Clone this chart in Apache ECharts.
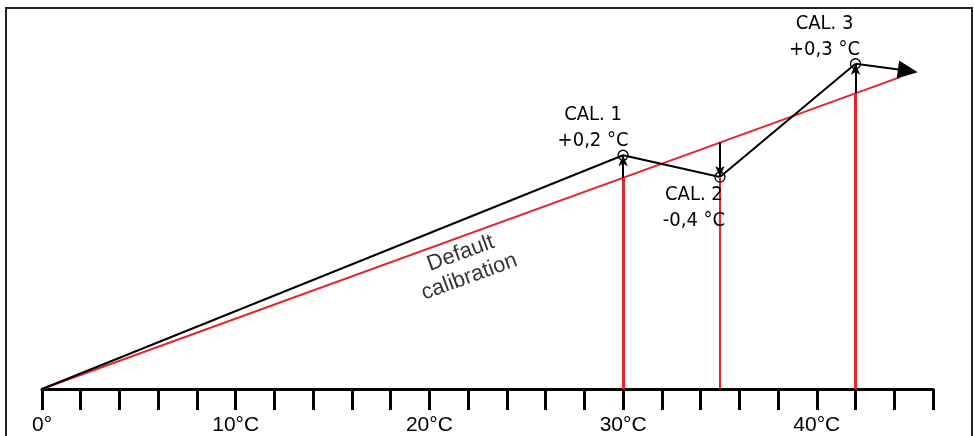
<!DOCTYPE html>
<html>
<head>
<meta charset="utf-8">
<script src="https://cdn.jsdelivr.net/npm/echarts@6/dist/echarts.min.js"></script>
<style>
  html, body { margin: 0; padding: 0; background: #fff; }
  #main { width: 974px; height: 436px; }
</style>
</head>
<body>
<div id="main"></div>
<script>
// temperature axis (°C), ticks every 2
const axisMin = 0;
const axisMax = 46;
const tickStep = 2;
// calibration points: set temperature, displayed (exaggerated) reading, text
const calX = [30, 35, 42];
const calY = [33.2, 30.1, 46.2];
const calName = ['CAL. 1', 'CAL. 2', 'CAL. 3'];
const calText = ['+0,2 °C', '-0,4 °C', '+0,3 °C'];
// default calibration line (reading = temperature)
const defaultStart = [0, 0];
const defaultEnd = [44.3, 44.3];
// end of the calibrated curve (arrow)
const curveEnd = [44.7, 45.2];

const RED = '#e3262b';
const labelOffsets = [[-30, -27], [-26, 31], [-31, -27]];
const redWidths = [3, 2, 3];

const chart = echarts.init(document.getElementById('main'));

// black curve through origin and calibration points
const curveData = [[0, 0]].concat(calX.map((x, i) => [x, calY[i]]));

const redVerticals = calX.map((x, i) => [
  { coord: [x, 0], lineStyle: { width: redWidths[i], color: RED } },
  { coord: [x, x] }
]);
const blackArrows = calX.map((x, i) => [
  { coord: [x, x] },
  { coord: [x, calY[i]] }
]);

const option = {
  animation: false,
  graphic: [{
    type: 'rect',
    shape: { x: 6, y: 8, width: 966, height: 460 },
    style: { fill: 'none', stroke: '#222', lineWidth: 2 },
    z: 100
  }],
  grid: { left: 42, right: 41, top: 37, bottom: 47 },
  xAxis: {
    type: 'value',
    min: axisMin,
    max: axisMax,
    interval: tickStep,
    splitLine: { show: false },
    axisLine: { lineStyle: { color: '#000', width: 3 } },
    axisTick: { show: true, length: 21, lineStyle: { color: '#000', width: 3 } },
    axisLabel: {
      margin: 26,
      color: '#000',
      fontSize: 21,
      fontFamily: 'Liberation Sans',
      formatter: v => (v % 10 !== 0 ? '' : (v === 0 ? '0°' : v + '°C'))
    }
  },
  yAxis: { type: 'value', min: 0, max: 50, show: false },
  series: [
    {
      name: 'default',
      type: 'line',
      data: [defaultStart, defaultEnd],
      symbol: 'none',
      lineStyle: { color: RED, width: 2 },
      z: 2,
      markLine: {
        silent: true,
        symbol: ['none', 'none'],
        label: { show: false },
        lineStyle: { type: 'solid' },
        data: redVerticals
      }
    },
    {
      name: 'calibrated',
      type: 'line',
      data: curveData,
      symbol: 'none',
      lineStyle: { color: '#000', width: 2 },
      z: 3,
      markLine: {
        silent: true,
        symbol: ['none', 'arrow'],
        symbolSize: [7, 11],
        label: { show: false },
        lineStyle: { color: '#000', width: 2, type: 'solid' },
        data: blackArrows.concat([[
          { coord: [calX[2], calY[2]] },
          { coord: curveEnd, symbol: 'triangle', symbolSize: [18, 20] }
        ]])
      }
    },
    {
      name: 'points',
      type: 'scatter',
      symbol: 'circle',
      symbolSize: 10,
      itemStyle: { color: 'rgba(255,255,255,0)', borderColor: '#000', borderWidth: 1.3, opacity: 1 },
      z: 5,
      data: calX.map((x, i) => ({
        value: [x, calY[i]],
        label: { offset: labelOffsets[i] }
      })),
      label: {
        show: true,
        position: 'inside',
        align: 'center',
        verticalAlign: 'middle',
        color: '#000',
        fontSize: 20,
        lineHeight: 26,
        fontFamily: 'DejaVu Sans Condensed, Liberation Sans',
        formatter: p => calName[p.dataIndex] + '\n' + calText[p.dataIndex]
      }
    },
    {
      name: 'note',
      type: 'scatter',
      symbolSize: 0,
      data: [[21.84, 17.6]],
      label: {
        show: true,
        position: 'inside',
        rotate: 20,
        align: 'center',
        verticalAlign: 'middle',
        color: '#000',
        fontSize: 22,
        lineHeight: 25,
        fontFamily: 'Liberation Sans',
        formatter: 'Default\ncalibration'
      }
    }
  ]
};

chart.setOption(option);
</script>
</body>
</html>
